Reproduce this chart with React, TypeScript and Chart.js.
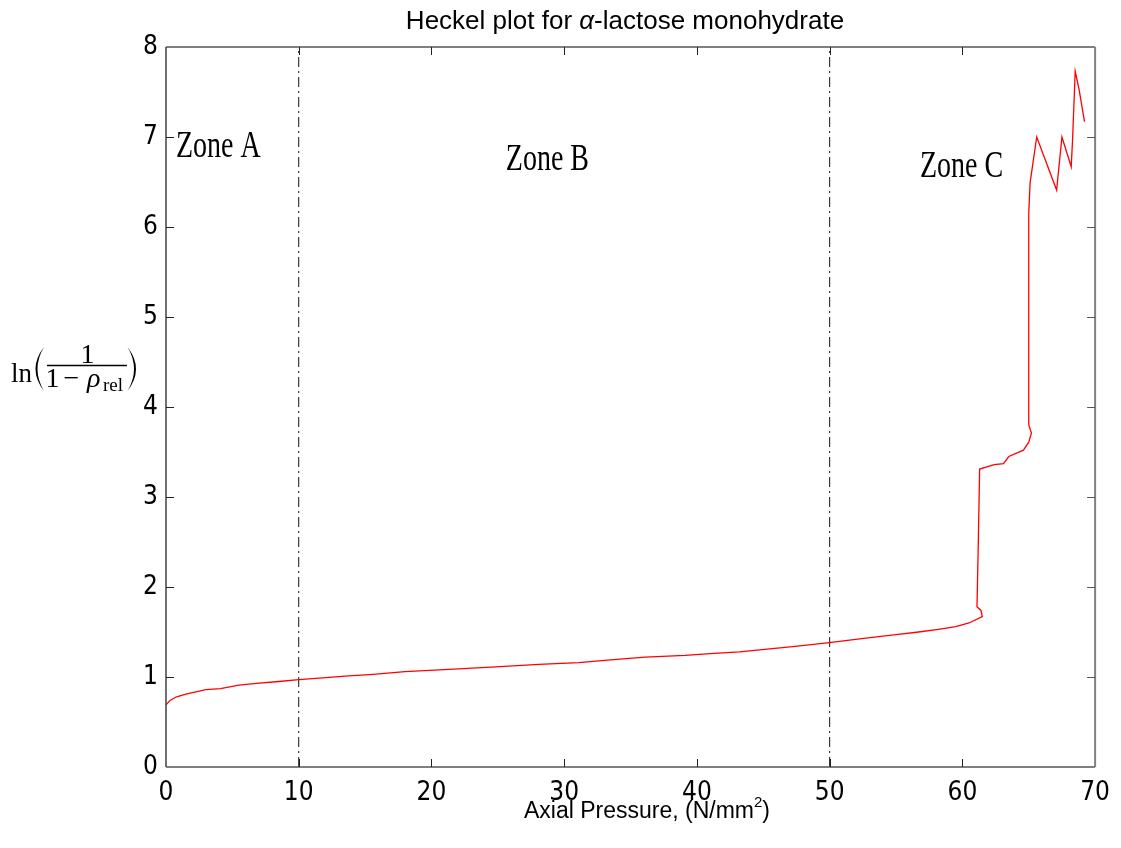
import React, { useEffect, useRef } from "react";
import { Chart, registerables } from "chart.js";

Chart.register(...registerables);

// Axial pressure (N/mm²)
const pressure = [
  0, 0.3, 0.8, 1.5, 3.0, 4.1, 5.5, 6.8, 8.5, 10, 11.8, 13.5, 15.6, 18, 20.6, 24.5, 28.1, 31.1, 33.5,
  36.1, 39.1, 41, 43.2, 45.3, 47.4, 49.8, 51.5, 53.2, 55, 56.7, 58.2, 59.5, 60.5, 61.5, 61.4, 61.1,
  61.2, 61.3, 62.4, 63.1, 63.5, 64.6, 65.0, 65.2, 65.0, 65.0, 65.1, 65.6, 67.1, 67.5, 68.2, 68.3,
  68.5, 68.8, 69.2,
];
// ln(1/(1-rho_rel))
const lnValues = [
  0.69, 0.74, 0.78, 0.81, 0.86, 0.87, 0.91, 0.93, 0.95, 0.97, 0.99, 1.01, 1.03, 1.06, 1.08, 1.11,
  1.14, 1.16, 1.19, 1.22, 1.24, 1.26, 1.28, 1.31, 1.34, 1.38, 1.41, 1.44, 1.47, 1.5, 1.53, 1.56,
  1.6, 1.67, 1.74, 1.78, 2.5, 3.31, 3.36, 3.37, 3.45, 3.52, 3.61, 3.71, 3.8, 6.15, 6.49, 7.0, 6.41,
  7.0, 6.67, 6.97, 7.73, 7.52, 7.17,
];

const zoneBoundaries = [10, 50];
const zoneLabels = ["Zone A", "Zone B", "Zone C"];
const zoneLabelX = [0.75, 25.6, 56.8];
const zoneLabelY = [6.78, 6.63, 6.56];

const xMin = 0;
const xMax = 70;
const xStep = 10;
const yMin = 0;
const yMax = 8;
const yStep = 1;

const titleParts = ["Heckel plot for ", "α", "-lactose monohydrate"];
const xLabelParts = ["Axial Pressure, (N/mm", "2", ")"];

const SANS = '"Liberation Sans", Arial, sans-serif';
const NARROW = '"Liberation Sans Narrow", "Arial Narrow", "DejaVu Sans Condensed", sans-serif';
const SERIF = '"Liberation Serif", "Times New Roman", serif';

const overlayPlugin = {
  id: "overlay",
  afterDraw(chart: any) {
    const { ctx, chartArea: a } = chart;
    const xs = chart.scales.x;
    const ys = chart.scales.y;
    ctx.save();

    const seg = (x1: number, y1: number, x2: number, y2: number, c: string, w: number) => {
      ctx.beginPath();
      ctx.strokeStyle = c;
      ctx.lineWidth = w;
      ctx.moveTo(x1, y1);
      ctx.lineTo(x2, y2);
      ctx.stroke();
    };
    // frame
    seg(a.left, a.top, a.right, a.top, "#555", 1.5);
    seg(a.left, a.top, a.left, a.bottom, "#404040", 1.5);
    seg(a.left, a.bottom, a.right, a.bottom, "#555", 1.5);
    seg(a.right, a.top, a.right, a.bottom, "#808080", 2);

    // inward ticks
    for (let v = xMin + xStep; v < xMax; v += xStep) {
      const px = Math.round(xs.getPixelForValue(v)) + 0.5;
      seg(px, a.bottom, px, a.bottom - 8, "#222", 1);
      seg(px, a.top, px, a.top + 8, "#222", 1);
    }
    for (let v = yMin + yStep; v < yMax; v += yStep) {
      const py = Math.round(ys.getPixelForValue(v)) + 0.5;
      seg(a.left, py, a.left + 8, py, "#222", 1);
      seg(a.right, py, a.right - 8, py, "#555", 1);
    }

    // zone labels
    ctx.fillStyle = "#000";
    ctx.textBaseline = "alphabetic";
    ctx.textAlign = "left";
    ctx.font = `28px ${SERIF}`;
    zoneLabels.forEach((t, i) => {
      const px = xs.getPixelForValue(zoneLabelX[i]);
      const py = ys.getPixelForValue(zoneLabelY[i]);
      ctx.save();
      ctx.translate(px, py);
      ctx.scale(1, 1.36);
      ctx.fillText(t, 0, 0);
      ctx.restore();
    });

    // title
    const tFontN = `26px ${SANS}`;
    const tFontI = `italic 26px ${SANS}`;
    const fonts = [tFontN, tFontI, tFontN];
    let total = 0;
    const widths = titleParts.map((p, i) => {
      ctx.font = fonts[i];
      const w = ctx.measureText(p).width;
      total += w;
      return w;
    });
    let tx = 625 - total / 2;
    titleParts.forEach((p, i) => {
      ctx.font = fonts[i];
      ctx.fillText(p, tx, 29);
      tx += widths[i];
    });

    // x label
    const xf = `23px ${SANS}`;
    const xfs = `15px ${SANS}`;
    ctx.font = xf;
    const w0 = ctx.measureText(xLabelParts[0]).width;
    const w2 = ctx.measureText(xLabelParts[2]).width;
    ctx.font = xfs;
    const w1 = ctx.measureText(xLabelParts[1]).width;
    let lx = 647 - (w0 + w1 + w2) / 2;
    ctx.font = xf;
    ctx.fillText(xLabelParts[0], lx, 818);
    lx += w0;
    ctx.font = xfs;
    ctx.fillText(xLabelParts[1], lx, 807);
    lx += w1;
    ctx.font = xf;
    ctx.fillText(xLabelParts[2], lx, 818);

    // y label: ln(1/(1 - rho_rel))
    ctx.font = `27px ${SERIF}`;
    ctx.fillText("ln", 11, 382);
    // parentheses as thin crescents
    const paren = (xEdge: number, xMid: number, xMidIn: number) => {
      const top = 347;
      const bot = 391;
      const mid = (top + bot) / 2;
      ctx.beginPath();
      ctx.moveTo(xEdge, top);
      ctx.quadraticCurveTo(xMid, mid, xEdge, bot);
      ctx.quadraticCurveTo(xMidIn, mid, xEdge, top);
      ctx.closePath();
      ctx.fill();
    };
    paren(44, 27, 31);
    paren(127.5, 144.5, 140.5);

    ctx.font = `28px ${SERIF}`;
    ctx.textAlign = "center";
    ctx.fillText("1", 87.5, 363);
    seg(47, 365.5, 127, 365.5, "#000", 1.5);
    ctx.fillText("1", 52.5, 387);
    ctx.fillText("−", 71.5, 387);
    ctx.textAlign = "left";
    ctx.font = `italic 28px ${SERIF}`;
    ctx.fillText("ρ", 87, 387);
    ctx.font = `19px ${SERIF}`;
    ctx.fillText("rel", 103, 391);

    ctx.restore();
  },
};

export default function App() {
  const canvasRef = useRef<HTMLCanvasElement | null>(null);

  useEffect(() => {
    if (!canvasRef.current) return;
    const heckel = pressure.map((p, i) => ({ x: p, y: lnValues[i] }));
    const boundaryDatasets = zoneBoundaries.map((b) => ({
      label: `boundary ${b}`,
      data: [
        { x: b, y: yMin },
        { x: b, y: yMax },
      ],
      showLine: true,
      borderColor: "#111",
      borderWidth: 1,
      borderDash: [10, 4, 2, 4],
      pointRadius: 0,
    }));

    const chart = new Chart(canvasRef.current, {
      type: "scatter",
      data: {
        datasets: [
          {
            label: "Heckel",
            data: heckel,
            showLine: true,
            borderColor: "#ff0000",
            borderWidth: 1.3,
            pointRadius: 0,
            tension: 0,
          },
          ...boundaryDatasets,
        ],
      },
      options: {
        animation: false,
        responsive: false,
        devicePixelRatio: 1,
        layout: { padding: { top: 47, right: 25, left: 0, bottom: 0 } },
        plugins: {
          legend: { display: false },
          title: { display: false },
          tooltip: { enabled: false },
        },
        scales: {
          x: {
            type: "linear",
            min: xMin,
            max: xMax,
            grid: { display: false, drawTicks: false },
            border: { display: false },
            ticks: {
              stepSize: xStep,
              color: "#000",
              padding: 11,
              font: { family: NARROW, size: 26 },
            },
            afterFit: (s: any) => {
              s.height = 81;
            },
          },
          y: {
            type: "linear",
            min: yMin,
            max: yMax,
            grid: { display: false, drawTicks: false },
            border: { display: false },
            ticks: {
              stepSize: yStep,
              color: "#000",
              padding: 8,
              font: { family: NARROW, size: 26 },
            },
            afterFit: (s: any) => {
              s.width = 166;
            },
          },
        },
      },
      plugins: [overlayPlugin],
    });
    return () => chart.destroy();
  }, []);

  return (
    <div style={{ position: "absolute", left: 0, top: 0, width: 1121, height: 848, background: "#fff" }}>
      <canvas ref={canvasRef} width={1121} height={848} />
    </div>
  );
}
